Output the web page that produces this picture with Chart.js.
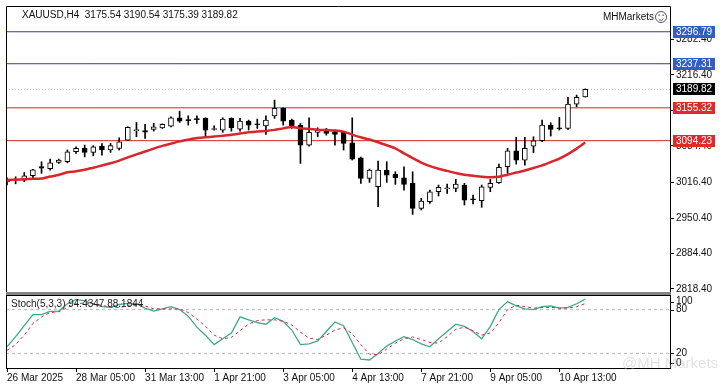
<!DOCTYPE html>
<html>
<head>
<meta charset="utf-8">
<script src="https://cdn.jsdelivr.net/npm/chart.js@4.4.1/dist/chart.umd.min.js"></script>
<style>
  html, body { margin: 0; padding: 0; background: #ffffff; }
  #wrap { position: relative; width: 723px; height: 391px; overflow: hidden; }
  canvas { position: absolute; left: 0; }
  #price-chart { top: 0; }
  #stoch-chart { top: 290px; }
</style>
</head>
<body>
<div id="wrap">
  <canvas id="price-chart" width="723" height="296"></canvas>
  <canvas id="stoch-chart" width="723" height="101"></canvas>
</div>
<script>
// XAUUSD H4, 26 Mar - 11 Apr 2025
const symbolTitle = "XAUUSD,H4  3175.54 3190.54 3175.39 3189.82";
const stochTitle = "Stoch(5,3,3) 94.4347 88.1844";

const xTickBars = [0, 8, 16, 24, 32, 40, 48, 56, 64];
const xTickLabels = ["26 Mar 2025", "28 Mar 05:00", "31 Mar 13:00", "1 Apr 21:00", "3 Apr 05:00",
  "4 Apr 13:00", "7 Apr 21:00", "9 Apr 05:00", "10 Apr 13:00"];

const opens = [3018, 3021, 3021, 3029, 3046, 3042, 3054, 3055, 3073.6, 3080,
  3072.5, 3084, 3077, 3080, 3095, 3113, 3113, 3115, 3118, 3121.4,
  3136.8, 3132.5, 3135.3, 3135.7, 3115, 3114, 3135.7, 3115.8, 3130.7, 3125,
  3121.9, 3140.5, 3154.3, 3132.5, 3123.2, 3086, 3109.7, 3114, 3110.8, 3109.7,
  3090.3, 3062.4, 3024.2, 3008.5, 3039.6, 3031.6, 3025.3, 3014.9, 2968.4, 2980.7,
  2999.3, 3004.8, 3005.6, 3011.7, 2985.7, 2982.5, 3007.4, 3016, 3045.7, 3075.5,
  3058.2, 3084.2, 3094.1, 3123.2, 3117.7, 3117.1, 3162.3, 3175.54];
const highs = [3025, 3027, 3035, 3041, 3055, 3060, 3060, 3077, 3083, 3086,
  3085, 3089, 3089, 3099.6, 3120, 3128, 3124.5, 3126.4, 3125.5, 3138.7,
  3149.2, 3140.5, 3140.5, 3136.8, 3122, 3136.8, 3136.8, 3135.7, 3132.5, 3134.4,
  3140.5, 3169.7, 3155.4, 3134.4, 3126.4, 3136.8, 3118.2, 3117.1, 3114, 3110.8,
  3136.8, 3063.8, 3041.4, 3056.3, 3055, 3036.4, 3045.7, 3036.4, 2987, 3002.4,
  3011.7, 3013.6, 3022.3, 3014.9, 2993.1, 3011.7, 3022.3, 3050.7, 3079.9, 3100.4,
  3100.4, 3101.5, 3132.5, 3127.5, 3137.5, 3174.7, 3179, 3190.54];
const lows = [3012, 3014, 3018, 3025, 3033.5, 3039.6, 3052, 3053, 3070.6, 3064,
  3066, 3067.5, 3072.5, 3076.8, 3094.4, 3101.5, 3098.5, 3112, 3117, 3120,
  3128.2, 3123.2, 3126.4, 3101.5, 3114, 3109.7, 3112, 3112, 3114, 3117.1,
  3106, 3135.7, 3123.2, 3117.1, 3052, 3084.2, 3101.5, 3104.5, 3086, 3076.8,
  3058.2, 3014.9, 3016.7, 2971.4, 3016.7, 3013, 3002.4, 2957, 2965.3, 2977.7,
  2991.3, 2996.3, 2999.3, 2974.5, 2976.4, 2970.3, 2999.3, 3014.9, 3033.5, 3050.7,
  3048.9, 3071.8, 3092.2, 3102.8, 3114, 3115.2, 3157.2, 3175.39];
const closes = [3021, 3021.5, 3029, 3040, 3043, 3053, 3058, 3073.6, 3080, 3072.5,
  3083, 3077, 3085, 3092, 3119, 3115, 3110, 3120, 3124.5, 3136.8,
  3130.7, 3131.6, 3133.5, 3114, 3116, 3134.4, 3118.2, 3130.7, 3123.2, 3123.8,
  3132.5, 3154.3, 3130.7, 3118.2, 3086, 3109.7, 3114, 3107.8, 3106, 3089.2,
  3060, 3024.2, 3039.6, 3039.6, 3030.3, 3025.3, 3013, 2968.4, 2982, 2999.3,
  3007.4, 3006.1, 3013.6, 2983.8, 2984.4, 3008.5, 3014.9, 3044.6, 3075.5, 3058.2,
  3079.9, 3094.1, 3123.2, 3115.2, 3116.4, 3162.3, 3174.7, 3189.82];

const maValues = [3021.0, 3021.7, 3022.3, 3023.2, 3023.8, 3027.5, 3030.7, 3035.5, 3037.2, 3040.0,
  3044.0, 3047.9, 3052.2, 3057.1, 3063.2, 3068.8, 3074.0, 3079.5, 3084.6, 3088.8,
  3092.9, 3096.1, 3099.1, 3100.4, 3101.9, 3103.5, 3105.4, 3107.4, 3109.8, 3111.5,
  3112.4, 3114.3, 3117.1, 3119.5, 3117.3, 3116.0, 3114.7, 3113.9, 3113.2, 3111.1,
  3105.6, 3100.5, 3096.3, 3091.3, 3085.7, 3080.1, 3070.6, 3061.9, 3053.5, 3047.0,
  3042.0, 3038.1, 3034.0, 3030.9, 3028.8, 3027.3, 3026.2, 3027.1, 3031.0, 3034.9,
  3038.7, 3043.3, 3048.3, 3054.5, 3061.0, 3069.3, 3079.5, 3091.0];

const stochK = [29, 43, 58, 73, 73, 77.6, 78, 88, 94, 92,
  88, 84, 83, 87, 88.5, 88, 82, 78, 81, 84,
  80, 71, 56, 45, 32, 40, 48, 70, 66, 62,
  60, 69, 64, 52, 32, 33, 37, 50, 63, 58,
  35, 12, 11, 20, 30, 37, 43, 39, 33, 29,
  40, 50, 60, 57, 50, 40, 57, 80, 91, 85,
  81, 80, 84, 85, 82, 83, 88, 94.43];
const stochD = [24, 32, 45, 61, 70, 76, 77, 83, 88, 89,
  88, 86, 83, 83, 85, 85.5, 85, 81, 81, 81,
  81, 76, 67, 57, 45, 40, 42, 51, 60, 65,
  66, 66, 64, 59, 49, 41, 39, 45, 52, 55,
  47, 32, 19, 18, 26, 34, 40, 42.5, 39, 35,
  34, 43, 53, 56, 51, 45, 48, 62, 80, 86,
  84, 82, 83, 83, 82, 82, 84, 88.18];

const priceTicks = [2818.40, 2884.40, 2950.40, 3016.40, 3084.40, 3150.40, 3216.40, 3282.40];
const blueLevels = [3296.79, 3237.31];
const redLevels = [3155.32, 3094.23];
const bidLevel = 3189.82;
const stochLevels = [20, 80];
const stochAxisTicks = [0, 20, 80, 100];

const X_MIN = -0.116;
const X_MAX = 76.82;
const PRICE_MIN = 2812.8;
const PRICE_MAX = 3344.7;

const FONT = "'Liberation Sans', Arial, sans-serif";
const BLUE_TAG = "#2f5ec4";
const RED_TAG = "#e02a2a";

const bars = opens.map((_, i) => i);
const hline = (v) => [{ x: X_MIN, y: v }, { x: X_MAX, y: v }];

function levelDataset(v, color, dash) {
  return {
    type: "line",
    data: hline(v),
    borderColor: color,
    borderWidth: 1,
    borderDash: dash || [],
    pointRadius: 0,
    order: 3,
  };
}

const mainDecor = {
  id: "mainDecor",
  afterDraw(chart) {
    const { ctx, chartArea: a, scales } = chart;
    ctx.save();
    ctx.strokeStyle = "#000";
    ctx.lineWidth = 1;
    ctx.beginPath();
    ctx.moveTo(a.left + 0.5, a.bottom);
    ctx.lineTo(a.left + 0.5, a.top + 0.5);
    ctx.lineTo(a.right + 0.5, a.top + 0.5);
    ctx.lineTo(a.right + 0.5, a.bottom);
    ctx.stroke();
    ctx.fillStyle = "#858585";
    ctx.fillRect(a.left, a.bottom, a.right - a.left + 1, 3);

    ctx.font = "10px " + FONT;
    ctx.textBaseline = "middle";
    ctx.fillStyle = "#111";
    ctx.fillText(symbolTitle, 22, 15);
    ctx.textAlign = "right";
    ctx.fillText("MHMarkets", a.right - 16, 17);

    // smiley
    ctx.strokeStyle = "#555";
    ctx.beginPath();
    ctx.arc(a.right - 9, 17, 5.5, 0, Math.PI * 2);
    ctx.stroke();
    ctx.fillStyle = "#555";
    ctx.fillRect(a.right - 11.5, 14.5, 1.2, 1.5);
    ctx.fillRect(a.right - 7.5, 14.5, 1.2, 1.5);
    ctx.beginPath();
    ctx.arc(a.right - 9, 17.5, 2.8, 0.15 * Math.PI, 0.85 * Math.PI);
    ctx.stroke();

    // price tags on the axis
    const tags = [
      ...blueLevels.map((v) => ({ v, bg: BLUE_TAG })),
      { v: bidLevel, bg: "#000" },
      ...redLevels.map((v) => ({ v, bg: RED_TAG })),
    ];
    ctx.textAlign = "left";
    tags.forEach((t) => {
      const y = Math.round(scales.y.getPixelForValue(t.v));
      ctx.fillStyle = t.bg;
      ctx.fillRect(a.right + 3, y - 6, 42, 12);
      ctx.fillStyle = "#fff";
      ctx.fillText(t.v.toFixed(2), a.right + 6, y + 0.5);
    });
    ctx.restore();
  },
};

const stochDecor = {
  id: "stochDecor",
  afterDraw(chart) {
    const { ctx, chartArea: a, scales } = chart;
    ctx.save();
    ctx.strokeStyle = "#000";
    ctx.lineWidth = 1;
    ctx.strokeRect(a.left + 0.5, a.top + 0.5, a.right - a.left, a.bottom - a.top);

    ctx.font = "10px " + FONT;
    ctx.textBaseline = "middle";
    ctx.fillStyle = "#222";
    ctx.fillText(stochTitle, a.left + 5, a.top + 9.5);

    stochAxisTicks.forEach((v) => {
      let y = scales.y.getPixelForValue(v);
      y = Math.min(Math.max(y, a.top + 6.5), a.bottom - 5);
      ctx.fillStyle = "#111";
      ctx.fillText(String(v), a.right + 6, y);
      ctx.fillRect(a.right + 1, Math.round(y), 3, 1);
    });

    ctx.font = "15px " + FONT;
    ctx.fillStyle = "rgba(190, 190, 190, 0.45)";
    ctx.fillText("@MH Markets", a.right - 48, a.bottom - 4);
    ctx.restore();
  },
};

const priceChart = new Chart(document.getElementById("price-chart"), {
  type: "bar",
  data: {
    datasets: [
      {
        type: "line",
        data: bars.map((i) => ({ x: i, y: maValues[i] })),
        borderColor: "#d8262c",
        borderWidth: 2.5,
        pointRadius: 0,
        tension: 0.2,
        order: 0,
      },
      {
        data: bars.map((i) => ({ x: i, y: [opens[i], closes[i]] })),
        backgroundColor: bars.map((i) => (closes[i] >= opens[i] ? "#ffffff" : "#000000")),
        borderColor: "#000",
        borderWidth: 1,
        borderSkipped: false,
        barThickness: 5,
        minBarLength: 1,
        grouped: false,
        order: 1,
      },
      {
        data: bars.map((i) => ({ x: i, y: [lows[i], highs[i]] })),
        backgroundColor: "#000",
        barThickness: 1,
        grouped: false,
        order: 2,
      },
      ...blueLevels.map((v) => levelDataset(v, "#353b8f")),
      ...redLevels.map((v) => levelDataset(v, "#d42424")),
      levelDataset(bidLevel, "#b8b8b8", [1, 2]),
    ],
  },
  options: {
    responsive: false,
    animation: false,
    layout: { padding: { top: 6, left: 6, bottom: 4, right: 0 } },
    plugins: { legend: { display: false }, tooltip: { enabled: false } },
    scales: {
      x: { type: "linear", min: X_MIN, max: X_MAX, offset: false, display: false },
      y: {
        position: "right",
        min: PRICE_MIN,
        max: PRICE_MAX,
        beginAtZero: false,
        afterBuildTicks: (s) => {
          s.ticks = priceTicks.map((v) => ({ value: v }));
        },
        afterFit: (s) => {
          s.width = 53;
          s.paddingTop = 0;
          s.paddingBottom = 0;
        },
        ticks: {
          callback: (v) => Number(v).toFixed(2),
          color: "#111",
          padding: 2,
          font: { family: FONT, size: 10, lineHeight: 1 },
        },
        grid: { drawOnChartArea: false, tickLength: 4, color: "#000" },
        border: { display: false },
      },
    },
  },
  plugins: [mainDecor],
});

const stochChart = new Chart(document.getElementById("stoch-chart"), {
  type: "line",
  data: {
    datasets: [
      {
        data: bars.map((i) => ({ x: i, y: stochK[i] })),
        borderColor: "#3da88f",
        borderWidth: 1.3,
        pointRadius: 0,
        order: 1,
      },
      {
        data: bars.map((i) => ({ x: i, y: stochD[i] })),
        borderColor: "#d8283c",
        borderWidth: 1,
        borderDash: [3, 3],
        pointRadius: 0,
        order: 0,
      },
      ...stochLevels.map((v) => ({
        data: hline(v),
        borderColor: "#b5b5b5",
        borderWidth: 1,
        borderDash: [3, 3],
        pointRadius: 0,
        order: 2,
      })),
    ],
  },
  options: {
    responsive: false,
    animation: false,
    layout: { padding: { top: 5, left: 6, bottom: 0, right: 0 } },
    plugins: { legend: { display: false }, tooltip: { enabled: false } },
    scales: {
      x: {
        type: "linear",
        min: X_MIN,
        max: X_MAX,
        offset: false,
        afterBuildTicks: (s) => {
          s.ticks = xTickBars.map((v) => ({ value: v }));
        },
        afterFit: (s) => {
          s.height = 23;
          s.paddingLeft = 0;
          s.paddingRight = 0;
        },
        ticks: {
          callback: (v) => xTickLabels[xTickBars.indexOf(v)],
          align: "start",
          maxRotation: 0,
          autoSkip: false,
          padding: 1,
          color: "#111",
          font: { family: FONT, size: 10, lineHeight: 1 },
        },
        grid: { drawOnChartArea: false, tickLength: 4, color: "#000" },
        border: { display: false },
      },
      y: {
        position: "right",
        min: 0,
        max: 100,
        ticks: { display: false },
        grid: { display: false },
        border: { display: false },
        afterFit: (s) => {
          s.width = 53;
        },
      },
    },
  },
  plugins: [stochDecor],
});
</script>
</body>
</html>
